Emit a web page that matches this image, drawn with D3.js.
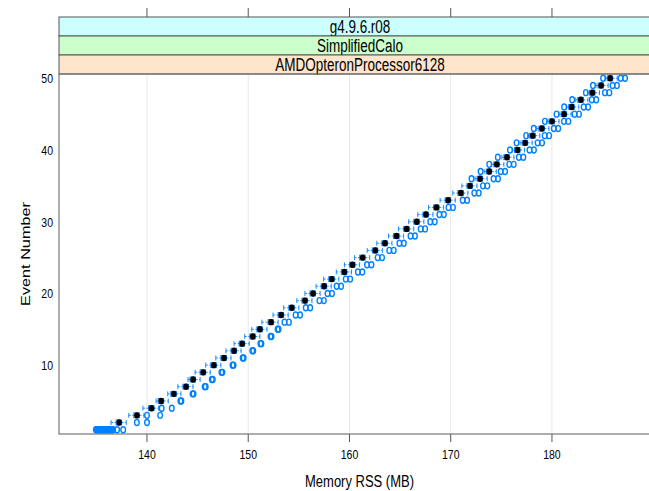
<!DOCTYPE html>
<html lang="en">
<head>
    <meta charset="UTF-8">
    <title>Memory RSS per event</title>
    <script src="https://d3js.org/d3.v7.min.js"></script>
    <style>
        body {
            margin: 0;
            overflow: hidden;
            background: #fff;
        }
        svg {
            display: block;
            font-family: "Liberation Sans", Arial, Helvetica, sans-serif;
        }
    </style>
</head>
<body>
    <script>
        // strips, top to bottom
        const stripLabels = ["g4.9.6.r08", "SimplifiedCalo", "AMDOpteronProcessor6128"];
        const stripColors = ["#ccffff", "#ccffcc", "#ffe5cc"];

        const xTicks = [140, 150, 160, 170, 180];
        const yTicks = [10, 20, 30, 40, 50];

        // event numbers 1..50
        const events = d3.range(1, 51);

        // box statistics per event (MB)
        const lo = [134.9, 136.45, 138.2, 139.6, 140.9, 142.05, 143.05, 144.05, 144.75, 145.8,
            146.8, 147.8, 148.6, 149.65, 150.35, 151.35, 152.45, 153.5, 154.8, 155.6,
            156.7, 157.45, 158.7, 159.5, 160.5, 161.75, 162.7, 163.85, 164.85, 165.85,
            166.75, 167.8, 168.95, 170.2, 171.1, 172.4, 173.3, 174.05, 175.05, 176.1,
            176.85, 177.6, 178.5, 179.5, 180.7, 181.45, 182.35, 183.5, 184.35, 185.25];
        const q1 = [135.3, 136.95, 138.7, 140.15, 141.1, 142.35, 143.55, 144.25, 145.25, 146.3,
            147.3, 148.3, 149.1, 150.15, 150.85, 151.95, 152.95, 154.0, 155.3, 156.1,
            157.2, 157.95, 159.2, 160.0, 161.0, 162.25, 163.2, 164.35, 165.35, 166.35,
            167.25, 168.3, 169.45, 170.7, 171.6, 172.6, 173.5, 174.25, 175.25, 176.3,
            177.05, 177.8, 178.7, 179.7, 180.9, 181.65, 182.55, 183.7, 184.55, 185.45];
        const median = [135.6, 137.25, 139.0, 140.45, 141.4, 142.65, 143.85, 144.55, 145.55, 146.6,
            147.6, 148.6, 149.4, 150.45, 151.15, 152.25, 153.25, 154.3, 155.6, 156.4,
            157.5, 158.25, 159.5, 160.3, 161.3, 162.55, 163.5, 164.65, 165.65, 166.65,
            167.55, 168.6, 169.75, 171.0, 171.9, 172.9, 173.8, 174.55, 175.55, 176.6,
            177.35, 178.1, 179.0, 180.0, 181.2, 181.95, 182.85, 184.0, 184.85, 185.75];
        const q3 = [135.85, 137.5, 139.25, 140.7, 141.65, 142.9, 144.1, 144.8, 145.8, 146.85,
            147.85, 148.85, 149.65, 150.7, 151.4, 152.5, 153.5, 154.55, 155.85, 156.65,
            157.75, 158.5, 159.75, 160.55, 161.55, 162.8, 163.75, 164.9, 165.9, 166.9,
            167.8, 168.85, 170.0, 171.25, 172.15, 173.15, 174.05, 174.8, 175.8, 176.85,
            177.6, 178.35, 179.25, 180.25, 181.45, 182.2, 183.1, 184.25, 185.1, 186.0];
        const hi = [136.3, 137.95, 139.7, 141.15, 142.1, 143.35, 144.55, 145.25, 146.25, 147.3,
            148.3, 149.3, 150.1, 151.15, 151.85, 152.95, 153.95, 155.0, 156.3, 157.1,
            158.2, 158.95, 160.2, 161.0, 162.0, 163.25, 164.2, 165.35, 166.35, 167.35,
            168.25, 169.3, 170.45, 171.7, 172.6, 173.6, 174.5, 175.25, 176.25, 177.3,
            178.05, 178.8, 179.7, 180.7, 181.9, 182.65, 183.55, 184.7, 185.55, 186.45];

        // points outside the whiskers per event (MB)
        const outliers = [
            [134.95, 135.05, 135.15, 135.25, 135.35, 135.45, 135.55, 135.65, 135.75, 135.85, 135.95,
                136.05, 136.15, 136.25, 136.35, 136.45, 136.55, 136.65, 137.05, 137.65],
            [139.0, 140.0], [140.0, 141.3], [141.45, 142.45], [143.3, 143.4],
            [144.5, 144.6], [145.7, 145.8], [146.4, 146.5], [147.35, 147.45], [148.45, 148.55],
            [149.45, 149.55], [150.4, 150.5], [151.2, 151.3], [152.2, 152.3], [152.9, 153.0],
            [153.58, 154.02], [154.68, 155.12], [155.68, 156.12], [157.03, 157.47], [157.83, 158.27],
            [158.73, 159.17], [159.63, 160.07], [160.83, 161.27], [161.73, 162.17], [162.78, 163.22],
            [163.93, 164.37], [164.93, 165.37], [166.03, 166.47], [167.03, 167.47], [167.98, 168.42],
            [168.88, 169.32], [169.78, 170.22], [171.18, 171.62], [172.33, 172.77], [173.18, 173.62],
            [172.05, 174.23, 174.67], [172.95, 174.93, 175.37], [173.8, 175.78, 176.22],
            [174.65, 176.73, 177.17], [175.85, 177.78, 178.22], [176.5, 178.58, 179.02],
            [177.45, 179.28, 179.72], [178.2, 180.18, 180.62], [179.3, 181.18, 181.62],
            [180.45, 182.23, 182.67], [181.2, 183.13, 183.57], [182.0, 183.93, 184.37],
            [183.35, 185.23, 185.67], [184.05, 185.98, 186.42], [185.05, 186.78, 187.22]
        ];

        const width = 649, height = 491;
        const panel = { left: 59, right: 661, top: 74, bottom: 434 };
        const stripH = 19;
        const stretch = 1.3; // picture is taller than wide

        const blue = "#0080ff";

        const svg = d3.select("body").append("svg")
            .attr("width", width)
            .attr("height", height);

        const x = d3.scaleLinear().domain([131.31, 190.77]).range([panel.left, panel.right]);
        const y = d3.scaleLinear().domain([0.4, 50.6]).range([panel.bottom, panel.top]);

        // text drawn with the same vertical stretch as the picture
        function label(px, py, str, size, anchor, rotate) {
            const g = svg.append("g")
                .attr("transform", `translate(${px},${py}) scale(1,${stretch})` + (rotate ? " rotate(-90)" : ""));
            g.append("text")
                .attr("text-anchor", anchor)
                .attr("font-size", size)
                .attr("dy", "0.36em")
                .attr("fill", "#000")
                .text(str);
        }

        // grid
        svg.append("g").selectAll("line")
            .data(xTicks)
            .enter().append("line")
            .attr("x1", d => x(d)).attr("x2", d => x(d))
            .attr("y1", panel.top).attr("y2", panel.bottom)
            .attr("stroke", "#e8e8e8")
            .attr("stroke-width", 1);

        // strips
        stripLabels.forEach((s, i) => {
            const top = panel.top - stripH * (stripLabels.length - i);
            svg.append("rect")
                .attr("x", panel.left).attr("y", top)
                .attr("width", panel.right - panel.left).attr("height", stripH)
                .attr("fill", stripColors[i])
                .attr("stroke", "#555")
                .attr("stroke-width", 1);
            label((panel.left + panel.right) / 2, top + stripH / 2, s, 13.5, "middle");
        });

        // axis ticks, top and bottom
        const stripTop = panel.top - stripH * stripLabels.length;
        svg.append("g").selectAll("line")
            .data(xTicks)
            .enter().append("line")
            .attr("x1", d => x(d)).attr("x2", d => x(d))
            .attr("y1", stripTop).attr("y2", stripTop - 9)
            .attr("stroke", "#555");
        svg.append("g").selectAll("line")
            .data(xTicks)
            .enter().append("line")
            .attr("x1", d => x(d)).attr("x2", d => x(d))
            .attr("y1", panel.bottom).attr("y2", panel.bottom + 8)
            .attr("stroke", "#555");

        xTicks.forEach(t => label(x(t), panel.bottom + 20, String(t), 10.5, "middle"));
        yTicks.forEach(t => label(panel.left - 6, y(t), String(t), 10.5, "end"));

        label((panel.left + panel.right) / 2 - 0.5, 481, "Memory RSS (MB)", 13, "middle");
        label(25, (panel.top + panel.bottom) / 2, "Event Number", 12.5, "middle", true);

        // boxes and whiskers
        const boxH = 2.5;
        const marks = svg.append("g");
        events.forEach((e, i) => {
            const cy = y(e);
            const g = marks.append("g");
            g.append("rect")
                .attr("x", x(q1[i])).attr("y", cy - boxH)
                .attr("width", x(q3[i]) - x(q1[i])).attr("height", boxH * 2)
                .attr("fill", "none")
                .attr("stroke", blue)
                .attr("stroke-width", 0.9);
            [[lo[i], q1[i]], [q3[i], hi[i]]].forEach(w => {
                g.append("line")
                    .attr("x1", x(w[0])).attr("x2", x(w[1]))
                    .attr("y1", cy).attr("y2", cy)
                    .attr("stroke", blue)
                    .attr("stroke-width", 0.9)
                    .attr("stroke-dasharray", "2,1.5");
            });
            [lo[i], hi[i]].forEach(v => {
                g.append("line")
                    .attr("x1", x(v)).attr("x2", x(v))
                    .attr("y1", cy - boxH).attr("y2", cy + boxH)
                    .attr("stroke", blue)
                    .attr("stroke-width", 0.9);
            });
            g.append("ellipse")
                .attr("cx", x(median[i])).attr("cy", cy)
                .attr("rx", 2.8).attr("ry", 3.2)
                .attr("fill", "#000");
            g.selectAll("ellipse.out")
                .data(outliers[i])
                .enter().append("ellipse")
                .attr("class", "out")
                .attr("cx", d => x(d)).attr("cy", cy)
                .attr("rx", 2.3).attr("ry", 3.0)
                .attr("fill", "none")
                .attr("stroke", blue)
                .attr("stroke-width", 1.4);
        });

        // panel frame
        svg.append("rect")
            .attr("x", panel.left).attr("y", panel.top)
            .attr("width", panel.right - panel.left).attr("height", panel.bottom - panel.top)
            .attr("fill", "none")
            .attr("stroke", "#777")
            .attr("stroke-width", 1.2);
    </script>
</body>
</html>
